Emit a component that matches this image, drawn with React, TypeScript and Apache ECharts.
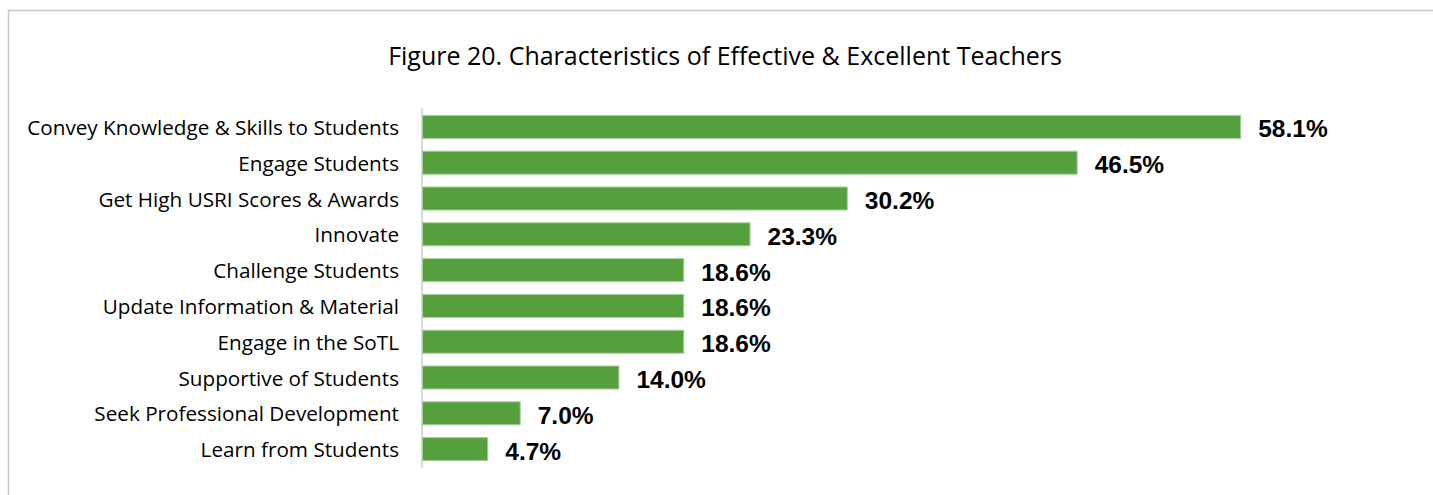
import React, { useEffect, useRef } from "react";
import * as echarts from "echarts";

const categories = [
  "Convey Knowledge & Skills to Students",
  "Engage Students",
  "Get High USRI Scores & Awards",
  "Innovate",
  "Challenge Students",
  "Update Information & Material",
  "Engage in the SoTL",
  "Supportive of Students",
  "Seek Professional Development",
  "Learn from Students",
];
const values = [58.1, 46.5, 30.2, 23.3, 18.6, 18.6, 18.6, 14.0, 7.0, 4.7];
const titleText = "Figure 20. Characteristics of Effective & Excellent Teachers";

export default function App() {
  const ref = useRef<HTMLDivElement>(null);
  useEffect(() => {
    const chart = echarts.init(ref.current!, null, { renderer: "svg" });
    chart.setOption({
      animation: false,
      backgroundColor: "#ffffff",
      title: {
        text: titleText,
        left: 720,
        textAlign: "center",
        top: 37,
        textStyle: { fontFamily: "Open Sans", fontSize: 25, fontWeight: "normal", color: "#000" },
      },
      graphic: [
        {
          type: "rect",
          shape: { x: 8.5, y: 10.5, width: 1500, height: 600 },
          style: { fill: "none", stroke: "#c6c6c6", lineWidth: 1.5 },
          silent: true,
        },
      ],
      grid: { left: 422, right: 24, top: 109, bottom: 28, containLabel: false },
      xAxis: {
        type: "value",
        min: 0,
        max: 70,
        show: false,
      },
      yAxis: {
        type: "category",
        data: categories,
        inverse: true,
        axisLine: { show: true, lineStyle: { color: "#d9d9d9", width: 2 } },
        axisTick: { show: false },
        axisLabel: {
          margin: 23,
          fontFamily: "Open Sans",
          fontSize: 20.7,
          color: "#000",
        },
      },
      series: [
        {
          type: "bar",
          data: values,
          barWidth: 24,
          itemStyle: { color: "#55a03c", borderColor: "#a8cf9c", borderWidth: 1 },
          label: {
            show: true,
            position: "right",
            distance: 17,
            offset: [0, 2],
            formatter: (p: any) => Number(p.value).toFixed(1) + "%",
            fontFamily: "Liberation Sans",
            fontWeight: "bold",
            fontSize: 24.5,
            color: "#000",
          },
        },
      ],
    });
    return () => chart.dispose();
  }, []);
  return (
    <div
      ref={ref}
      style={{ position: "absolute", left: 0, top: 0, width: 1433, height: 495 }}
    />
  );
}
